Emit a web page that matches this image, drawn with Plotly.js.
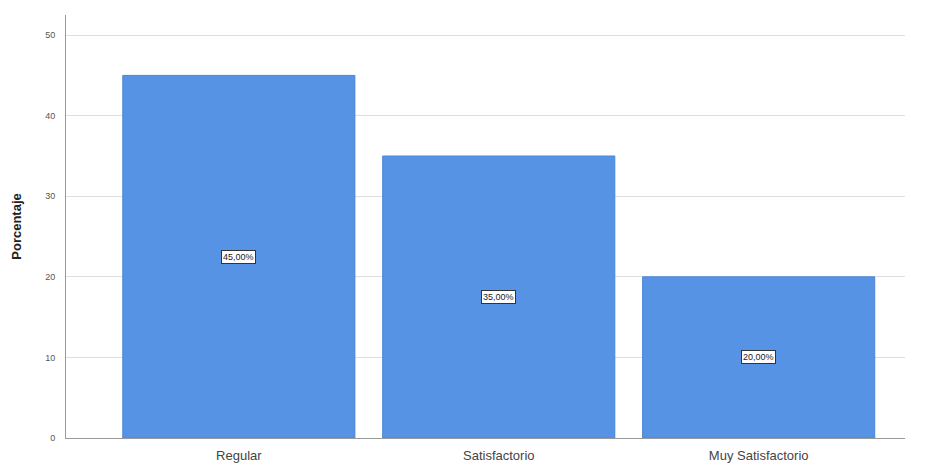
<!DOCTYPE html>
<html><head><meta charset="utf-8">
<script src="https://cdn.plot.ly/plotly-3.0.1.min.js"></script>
<style>html,body{margin:0;padding:0;background:#fff}</style>
</head><body>
<div id="chart" style="width:926px;height:466px"></div>
<script>
const categories = ["Regular", "Satisfactorio", "Muy Satisfactorio"];
const porcentajes = [45, 35, 20];
const etiquetas = ["45,00%", "35,00%", "20,00%"];
const yTicks = [0, 10, 20, 30, 40, 50];

const trace = {
  type: "bar",
  x: categories,
  y: porcentajes,
  width: 0.893,
  marker: {color: "#5693e4", line: {color: "#4a86d6", width: 1}},
  hoverinfo: "none"
};

const annotations = categories.map((c, i) => ({
  x: c, y: porcentajes[i] / 2, xref: "x", yref: "y",
  text: etiquetas[i], showarrow: false,
  font: {family: "Liberation Sans, Arial, sans-serif", size: 9, color: "#222"},
  bgcolor: "#ffffff", bordercolor: "#333", borderwidth: 1, borderpad: 1
}));

const layout = {
  width: 926, height: 466,
  margin: {l: 66, r: 21, t: 15, b: 28},
  paper_bgcolor: "#fff", plot_bgcolor: "#fff",
  showlegend: false,
  bargap: 0,
  xaxis: {
    type: "category",
    range: [-0.665, 2.563],
    showgrid: false, zeroline: false,
    showline: true, linecolor: "#9a9a9a", linewidth: 1,
    ticks: "", tickfont: {family: "Liberation Sans, Arial, sans-serif", size: 13, color: "#444"},
    ticklabelstandoff: 5
  },
  yaxis: {
    range: [0, 52.5],
    tickvals: yTicks, ticktext: yTicks.map(String),
    showgrid: true, gridcolor: "#dedede", gridwidth: 1,
    zeroline: false,
    showline: true, linecolor: "#9a9a9a", linewidth: 1,
    ticks: "", tickfont: {family: "Liberation Sans, Arial, sans-serif", size: 9, color: "#555"},
    ticklabelstandoff: 8,
    title: {text: "<b>Porcentaje</b>", font: {family: "Liberation Sans, Arial, sans-serif", size: 13, color: "#222"}, standoff: 20}
  },
  annotations: annotations
};

Plotly.newPlot("chart", [trace], layout, {displayModeBar: false, staticPlot: true});
</script>
</body></html>
